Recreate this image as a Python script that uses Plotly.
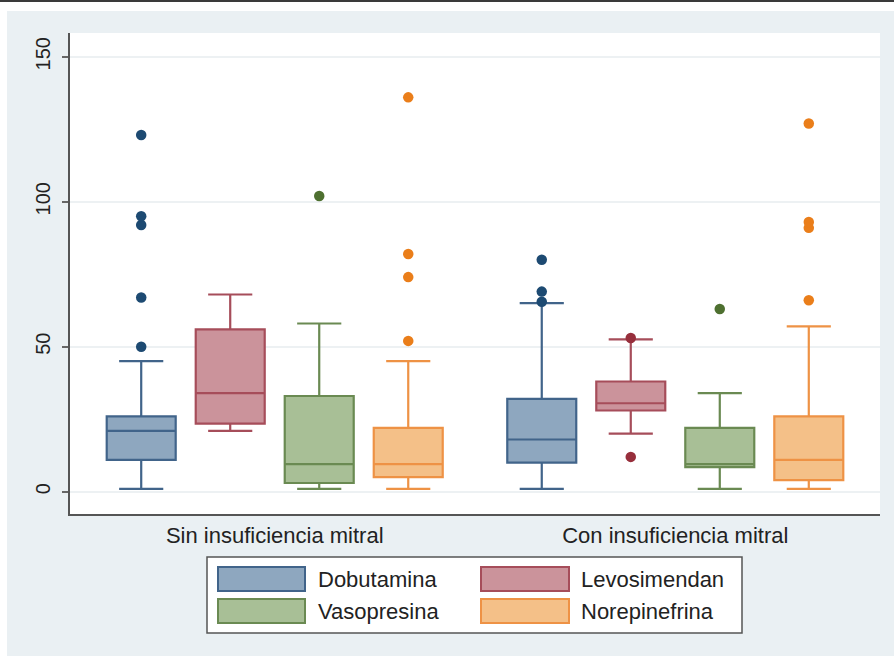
import plotly.graph_objects as go

# ---- data -------------------------------------------------------------
groups = ["Sin insuficiencia mitral", "Con insuficiencia mitral"]
drugs = ["Dobutamina", "Levosimendan", "Vasopresina", "Norepinefrina"]

# box statistics, one list per group (order = drugs)
lower_sin = [1, 21, 1, 1]
q1_sin = [11, 23.5, 3, 5]
median_sin = [21, 34, 9.5, 9.5]
q3_sin = [26, 56, 33, 22]
upper_sin = [45, 68, 58, 45]
outliers_sin = [[50, 67, 92, 95, 123], [], [102], [52, 74, 82, 136]]

lower_con = [1, 20, 1, 1]
q1_con = [10, 28, 8.5, 4]
median_con = [18, 30.5, 9.5, 11]
q3_con = [32, 38, 22, 26]
upper_con = [65, 52.5, 34, 57]
outliers_con = [[65.5, 69, 80], [12, 53], [63], [66, 91, 93, 127]]

y_ticks = [0, 50, 100, 150]

# ---- styling ----------------------------------------------------------
line_colors = ["#41648a", "#a64d5a", "#6a8a52", "#ee9245"]
fill_colors = ["#8ea7bf", "#cb939b", "#a8bf96", "#f4c088"]
dot_colors = ["#1d4a72", "#972f3c", "#4e7030", "#ea7e1a"]

W, H = 894, 656
L, R, T, B = 70, 14, 33, 142
PW, PH = W - L - R, H - T - B
FONT = "Liberation Sans, Arial, sans-serif"

positions = [[1, 2, 3, 4], [5.5, 6.5, 7.5, 8.5]]
group_centers = [2.5, 7.0]

stats = [
    (lower_sin, q1_sin, median_sin, q3_sin, upper_sin, outliers_sin),
    (lower_con, q1_con, median_con, q3_con, upper_con, outliers_con),
]

fig = go.Figure()

for g, (lo, a, m, b, up, outs) in enumerate(stats):
    for d in range(len(drugs)):
        x = positions[g][d]
        fig.add_trace(go.Box(
            x=[x], lowerfence=[lo[d]], q1=[a[d]], median=[m[d]],
            q3=[b[d]], upperfence=[up[d]],
            width=0.775, whiskerwidth=0.64,
            fillcolor=fill_colors[d],
            line=dict(color=line_colors[d], width=2.2),
            boxpoints=False, showlegend=False, hoverinfo="skip",
        ))
        if outs[d]:
            fig.add_trace(go.Scatter(
                x=[x] * len(outs[d]), y=outs[d], mode="markers",
                marker=dict(color=dot_colors[d], size=10.5),
                showlegend=False, hoverinfo="skip",
            ))


def px_x(px):
    return (px - L) / PW


def px_y(py):
    return (H - B - py) / PH


shapes = [
    # white strips around the shaded graph region
    dict(type="rect", xref="paper", yref="paper", x0=px_x(0), x1=px_x(W),
         y0=px_y(11), y1=px_y(0), fillcolor="white", line_width=0, layer="below"),
    dict(type="rect", xref="paper", yref="paper", x0=px_x(0), x1=px_x(7),
         y0=px_y(H), y1=px_y(11), fillcolor="white", line_width=0, layer="below"),
    dict(type="rect", xref="paper", yref="paper", x0=px_x(0), x1=px_x(W),
         y0=px_y(2), y1=px_y(0), fillcolor="#3a3a3a", line_width=0, layer="below"),
    # legend frame
    dict(type="rect", xref="paper", yref="paper", x0=px_x(207), x1=px_x(742),
         y0=px_y(633), y1=px_y(557), fillcolor="white",
         line=dict(color="#555555", width=1.5)),
]

annotations = []
swatch_cols = [(218, 305, 316), (481, 569, 579)]
swatch_rows = [(567, 591), (599, 623)]
for d, name in enumerate(drugs):
    col = swatch_cols[d % 2]
    row = swatch_rows[d // 2]
    shapes.append(dict(type="rect", xref="paper", yref="paper",
                       x0=px_x(col[0]), x1=px_x(col[1]),
                       y0=px_y(row[1]), y1=px_y(row[0]),
                       fillcolor=fill_colors[d],
                       line=dict(color=line_colors[d], width=2)))
    annotations.append(dict(xref="paper", yref="paper", x=px_x(col[2]),
                            y=px_y((row[0] + row[1]) / 2), text=name,
                            showarrow=False, xanchor="left", yanchor="middle",
                            font=dict(family=FONT, size=22, color="#222222")))

fig.update_layout(
    width=W, height=H,
    margin=dict(l=L, r=R, t=T, b=B),
    paper_bgcolor="#eaf0f3",
    plot_bgcolor="white",
    shapes=shapes,
    annotations=annotations,
    showlegend=False,
    font=dict(family=FONT, color="#222222"),
)

fig.update_xaxes(
    range=[0.2, 9.3],
    tickvals=group_centers, ticktext=groups,
    tickfont=dict(family=FONT, size=22, color="#222222"),
    ticks="", ticklabelstandoff=1,
    showgrid=False, zeroline=False,
    showline=True, linecolor="#555555", linewidth=1.8,
)

fig.update_yaxes(
    range=[-7.7, 158.2],
    tickvals=y_ticks, ticktext=[str(v) for v in y_ticks],
    tickangle=-90,
    tickfont=dict(family=FONT, size=20, color="#222222"),
    ticks="outside", ticklen=6, tickcolor="#666666", tickwidth=1.5,
    ticklabelstandoff=4,
    showgrid=True, gridcolor="#edf1f3", gridwidth=1.5,
    zeroline=False,
    showline=True, linecolor="#555555", linewidth=1.8,
)

fig.write_html("out.html")
